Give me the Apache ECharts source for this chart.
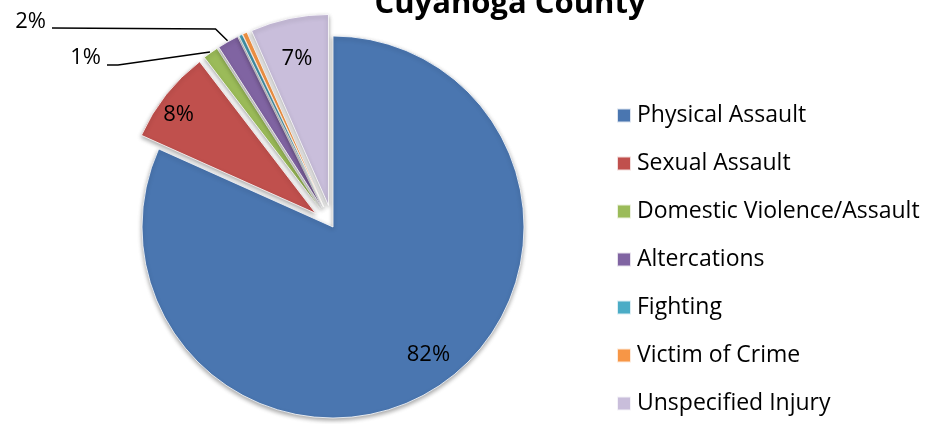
<!DOCTYPE html>
<html>
<head>
<meta charset="utf-8">
<script src="https://cdn.jsdelivr.net/npm/echarts@6/dist/echarts.min.js"></script>
<style>
  html, body { margin: 0; padding: 0; background: #fff; }
  #chart { width: 927px; height: 424px; }
</style>
</head>
<body>
<div id="chart"></div>
<script>
// injury categories, clockwise from 12 o'clock
const categories = [
  'Physical Assault',
  'Sexual Assault',
  'Domestic Violence/Assault',
  'Altercations',
  'Fighting',
  'Victim of Crime',
  'Unspecified Injury'
]
// share of cases in percent
const shares = [81.7, 7.9, 1.3, 1.8, 0.3, 0.4, 6.6]
const colors = ['#4a76b0', '#c0504d', '#9bbb59', '#8064a2', '#4bacc6', '#f79646', '#c9bedb']
// slices pulled out of the pie
const exploded = [false, true, true, true, true, true, true]
// slices whose label is not shown
const hiddenLabels = [4, 5]
// slices labelled outside with a leader line
const outsideLabels = [2, 3]

const chart = echarts.init(document.getElementById('chart'))

const center = [333, 227]
const radius = 191

// the drawn pie (no labels, those come from the overlay below)
const sliceData = categories.map((name, i) => ({
  name,
  value: shares[i],
  selected: exploded[i],
  itemStyle: { color: colors[i] }
}))

// transparent copy of the pie that only carries the percentage labels
const labelData = categories.map((name, i) => {
  const outside = outsideLabels.indexOf(i) >= 0
  return {
    name,
    value: shares[i],
    label: {
      show: hiddenLabels.indexOf(i) < 0,
      position: outside ? 'outside' : 'inside'
    },
    labelLine: { show: outside }
  }
})

const option = {
  animation: false,
  backgroundColor: '#fff',
  title: {
    text: 'Cuyahoga County',
    left: 505,
    textAlign: 'center',
    top: -16,
    textStyle: {
      fontFamily: 'Open Sans',
      fontWeight: 'bold',
      fontSize: 31,
      color: '#000'
    }
  },
  legend: {
    orient: 'vertical',
    left: 611,
    top: 99,
    icon: 'rect',
    itemWidth: 14,
    itemHeight: 14,
    itemGap: 25,
    selectedMode: false,
    data: categories.map((name, i) => ({ name, itemStyle: { color: colors[i] } })),
    textStyle: {
      fontFamily: 'Open Sans',
      fontSize: 23,
      lineHeight: 23,
      color: '#000',
      padding: [0, 0, 0, 1]
    }
  },
  series: [
    {
      type: 'pie',
      center,
      radius,
      startAngle: 90,
      selectedMode: 'multiple',
      selectedOffset: 22,
      label: { show: false },
      labelLine: { show: false },
      itemStyle: {
        borderColor: 'rgba(255,255,255,0.8)',
        borderWidth: 1,
        shadowColor: 'rgba(0,0,0,0.35)',
        shadowBlur: 4,
        shadowOffsetY: 2
      },
      emphasis: { disabled: true },
      data: sliceData
    },
    {
      type: 'pie',
      center,
      radius: [120, 214],
      startAngle: 90,
      silent: true,
      selectedMode: false,
      itemStyle: { color: 'rgba(0,0,0,0)' },
      emphasis: { disabled: true },
      label: {
        formatter: (p) => Math.round(p.value) + '%',
        fontFamily: 'Open Sans',
        fontSize: 22,
        color: '#000'
      },
      labelLine: {
        lineStyle: { color: '#000', width: 1.5 }
      },
      labelLayout: (params) => {
        const i = params.dataIndex
        const pts = params.labelLinePoints
        if (i === 3) {
          return {
            x: 46, y: 22, align: 'right', verticalAlign: 'middle',
            labelLinePoints: [pts[0], [pts[0][0] - 12, 29], [52, 28]]
          }
        }
        if (i === 2) {
          return {
            x: 101, y: 58, align: 'right', verticalAlign: 'middle',
            labelLinePoints: [pts[0], [118, 65], [107, 65]]
          }
        }
        if (i === 0) return { dx: 3, dy: -15 }
        if (i === 1) return { dx: -21, dy: -7 }
        if (i === 6) return { dx: -1, dy: -2 }
        return {}
      },
      data: labelData
    }
  ]
}

chart.setOption(option)
</script>
</body>
</html>
